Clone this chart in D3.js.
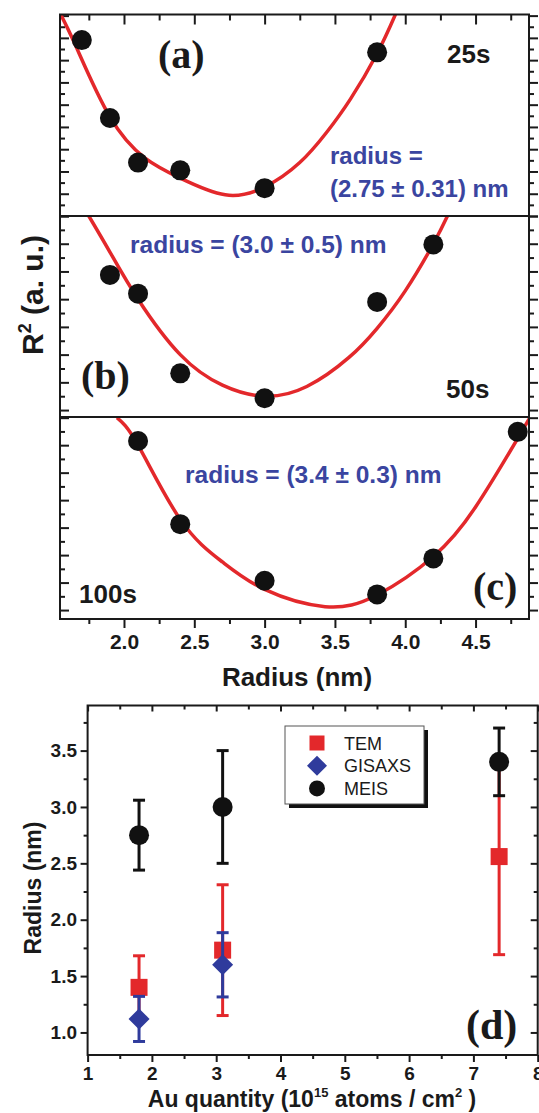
<!DOCTYPE html>
<meta charset="utf-8">
<style>
  body { margin: 0; background: #fff; }
  svg { display: block; }
</style>
<body>
<script src="https://d3js.org/d3.v7.min.js"></script>
<script>
  // panel (a) 25s
  const aRadius = [1.7, 1.9, 2.1, 2.4, 3.0, 3.8];
  const aR2 = [15.8, 8.8, 4.8, 4.1, 2.5, 14.7];
  const aFit = [[1.55, 18.1], [1.66, 15.2], [1.90, 8.9], [2.15, 5.2], [2.40, 3.4], [2.72, 1.9],
                [3.00, 2.6], [3.25, 4.8], [3.44, 7.5], [3.61, 10.5], [3.80, 14.6], [3.93, 18.1]];
  // panel (b) 50s
  const bRadius = [1.9, 2.1, 2.4, 3.0, 3.8, 4.2];
  const bR2 = [9.75, 8.4, 2.65, 0.85, 7.8, 11.95];
  const bFit = [[1.75, 14.0], [1.9, 11.4], [2.1, 8.0], [2.4, 4.0], [2.7, 1.8], [3.0, 1.0],
                [3.3, 1.7], [3.6, 3.8], [3.8, 5.9], [4.0, 8.6], [4.2, 12.0], [4.3, 14.0]];
  // panel (c) 100s
  const cRadius = [2.1, 2.4, 3.0, 3.8, 4.2, 4.8];
  const cR2 = [12.3, 6.25, 2.13, 1.14, 3.76, 12.97];
  const cFit = [[1.95, 14.0], [2.1, 12.0], [2.4, 6.6], [2.7, 3.5], [3.0, 1.5], [3.43, 0.25],
                [3.8, 1.1], [4.2, 3.9], [4.5, 7.5], [4.8, 12.5], [4.88, 13.9]];
  const radiusTicks = [2.0, 2.5, 3.0, 3.5, 4.0, 4.5];
  const radiusMinor = [1.75, 2.25, 2.75, 3.25, 3.75, 4.25, 4.75];

  // panel (d)
  const seriesNames = ["TEM", "GISAXS", "MEIS"];
  const temQuantity = [1.8, 3.1, 7.4];
  const temRadius = [1.40, 1.73, 2.56];
  const temErr = [0.28, 0.58, 0.87];
  const gisaxsQuantity = [1.8, 3.1];
  const gisaxsRadius = [1.12, 1.60];
  const gisaxsErr = [0.20, 0.285];
  const meisQuantity = [1.8, 3.1, 7.4];
  const meisRadius = [2.75, 3.0, 3.4];
  const meisErr = [0.31, 0.5, 0.3];
  const auTicks = [1, 2, 3, 4, 5, 6, 7, 8];
  const auMinor = [1.5, 2.5, 3.5, 4.5, 5.5, 6.5, 7.5];
  const nmTicks = [1.0, 1.5, 2.0, 2.5, 3.0, 3.5];
  const nmMinor = [1.25, 1.75, 2.25, 2.75, 3.25, 3.75];

  const sans = "'Liberation Sans', Arial, sans-serif";
  const serif = "'Liberation Serif', 'Times New Roman', serif";
  const ink = "#1a1a1a", red = "#e3282b", blue = "#2f3b9c", textBlue = "#3a45a0";

  const svg = d3.select("body").append("svg")
    .attr("width", 539).attr("height", 1113);

  // tick helper: draws ticks only (no domain line)
  function ticks(gen, tr, vals, size, fmt, pad, fs) {
    const g = svg.append("g").attr("transform", tr)
      .call(gen.tickValues(vals).tickSize(size).tickPadding(pad || 3)
        .tickFormat(fmt || ""));
    g.select(".domain").remove();
    g.selectAll("line").attr("stroke", ink).attr("stroke-width", 2);
    g.selectAll("text").attr("fill", ink).attr("font-family", sans)
      .attr("font-weight", "bold").attr("font-size", fs || 21);
    return g;
  }

  // ---------- top three panels ----------
  const L = 60, R = 529;
  const x = d3.scaleLinear().domain([1.545, 4.88]).range([L, R]);
  const panels = [
    {id: "a", top: 14.5, bot: 216, y: d3.scaleLinear().domain([0, 18.1]).range([216, 14.5]),
     r: aRadius, v: aR2, fit: aFit, n: 18},
    {id: "b", top: 216, bot: 417, y: d3.scaleLinear().domain([-0.5, 14]).range([417, 216]),
     r: bRadius, v: bR2, fit: bFit, n: 14},
    {id: "c", top: 417, bot: 619, y: d3.scaleLinear().domain([-0.65, 14.05]).range([619, 417]),
     r: cRadius, v: cR2, fit: cFit, n: 14}
  ];

  panels.forEach(p => {
    const all = d3.range(0, p.n + 1);
    const major = all.filter(d => d % 2 === 0), minor = all.filter(d => d % 2 === 1);
    ticks(d3.axisLeft(p.y), `translate(${L},0)`, major, -9);
    ticks(d3.axisLeft(p.y), `translate(${L},0)`, minor, -5);
    ticks(d3.axisRight(p.y), `translate(${R},0)`, major, 9);
    ticks(d3.axisRight(p.y), `translate(${R},0)`, minor, 5);

    svg.append("clipPath").attr("id", "clip-" + p.id)
      .append("rect").attr("x", L).attr("y", p.top).attr("width", R - L).attr("height", p.bot - p.top);

    const line = d3.line().x(d => x(d[0])).y(d => p.y(d[1])).curve(d3.curveNatural);
    svg.append("path").datum(p.fit)
      .attr("clip-path", `url(#clip-${p.id})`)
      .attr("d", line).attr("fill", "none").attr("stroke", red).attr("stroke-width", 3.5);

    svg.append("g").selectAll("circle").data(p.r).join("circle")
      .attr("cx", d => x(d)).attr("cy", (d, i) => p.y(p.v[i])).attr("r", 10)
      .attr("fill", "#111");

    svg.append("rect").attr("x", L).attr("y", p.top).attr("width", R - L).attr("height", p.bot - p.top)
      .attr("fill", "none").attr("stroke", ink).attr("stroke-width", 2);
  });

  ticks(d3.axisTop(x), `translate(0,14.5)`, radiusTicks, -10);
  ticks(d3.axisTop(x), `translate(0,14.5)`, radiusMinor, -6);
  ticks(d3.axisBottom(x), `translate(0,619)`, radiusTicks, 9, d3.format(".1f"), 6, 21);
  ticks(d3.axisBottom(x), `translate(0,619)`, radiusMinor, 5);

  function label(tx, ty, str, size, opts) {
    opts = opts || {};
    return svg.append("text").attr("x", tx).attr("y", ty).text(str)
      .attr("font-family", opts.family || sans).attr("font-weight", "bold")
      .attr("font-size", size).attr("fill", opts.fill || ink)
      .attr("text-anchor", opts.anchor || "start");
  }

  label(158, 68, "(a)", 40, {family: serif});
  label(447, 63, "25s", 26);
  label(330, 164, "radius =", 24, {fill: textBlue});
  label(330, 196.5, "(2.75 \u00b1 0.31) nm", 24, {fill: textBlue});
  label(130, 253, "radius = (3.0 \u00b1 0.5) nm", 24.5, {fill: textBlue});
  label(81, 389, "(b)", 40, {family: serif});
  label(446, 397.5, "50s", 26);
  label(185, 483, "radius = (3.4 \u00b1 0.3) nm", 24.5, {fill: textBlue});
  label(79, 603, "100s", 26);
  label(473, 600, "(c)", 40, {family: serif});
  label(297, 686, "Radius (nm)", 26, {anchor: "middle"});

  const r2 = svg.append("text").attr("transform", "translate(43,295) rotate(-90)")
    .attr("text-anchor", "middle").attr("font-family", sans).attr("font-weight", "bold")
    .attr("font-size", 30).attr("fill", ink);
  r2.append("tspan").text("R");
  r2.append("tspan").text("2").attr("font-size", 18).attr("dy", -12);
  r2.append("tspan").text(" (a. u.)").attr("dy", 12);

  // ---------- panel (d) ----------
  const dL = 87.6, dR = 537.7, dT = 705.5, dB = 1055;
  const xd = d3.scaleLinear().domain([1, 8]).range([dL, dR]);
  const yd = d3.scaleLinear().domain([0.8, 3.9]).range([dB, dT]);

  ticks(d3.axisBottom(xd), `translate(0,${dB})`, auTicks, 7, d3.format("d"), 4.5, 19);
  ticks(d3.axisBottom(xd), `translate(0,${dB})`, auMinor, 4);
  ticks(d3.axisTop(xd), `translate(0,${dT})`, auTicks, -6);
  ticks(d3.axisTop(xd), `translate(0,${dT})`, auMinor, -4);
  ticks(d3.axisLeft(yd), `translate(${dL},0)`, nmTicks, 7, d3.format(".1f"), 3.6, 19);
  ticks(d3.axisLeft(yd), `translate(${dL},0)`, nmMinor, 4);
  ticks(d3.axisRight(yd), `translate(${dR},0)`, nmTicks, -7);
  ticks(d3.axisRight(yd), `translate(${dR},0)`, nmMinor, -4);

  function errorBars(qs, vs, es, color) {
    const g = svg.append("g").attr("stroke", color).attr("stroke-width", 3);
    qs.forEach((q, i) => {
      const cx = xd(q), y1 = yd(vs[i] + es[i]), y2 = yd(vs[i] - es[i]);
      g.append("line").attr("x1", cx).attr("x2", cx).attr("y1", y1).attr("y2", y2);
      g.append("line").attr("x1", cx - 6).attr("x2", cx + 6).attr("y1", y1).attr("y2", y1);
      g.append("line").attr("x1", cx - 6).attr("x2", cx + 6).attr("y1", y2).attr("y2", y2);
    });
  }
  const diamond = (cx, cy, h) => `M${cx},${cy - h}L${cx + h},${cy}L${cx},${cy + h}L${cx - h},${cy}Z`;

  errorBars(temQuantity, temRadius, temErr, red);
  svg.append("g").selectAll("rect").data(temQuantity).join("rect")
    .attr("x", d => xd(d) - 8.5).attr("y", (d, i) => yd(temRadius[i]) - 8.5)
    .attr("width", 17).attr("height", 17).attr("fill", red);

  errorBars(gisaxsQuantity, gisaxsRadius, gisaxsErr, blue);
  svg.append("g").selectAll("path").data(gisaxsQuantity).join("path")
    .attr("d", (d, i) => diamond(xd(d), yd(gisaxsRadius[i]), 10.5)).attr("fill", blue);

  errorBars(meisQuantity, meisRadius, meisErr, "#111");
  svg.append("g").selectAll("circle").data(meisQuantity).join("circle")
    .attr("cx", d => xd(d)).attr("cy", (d, i) => yd(meisRadius[i])).attr("r", 10)
    .attr("fill", "#111");

  svg.append("rect").attr("x", dL).attr("y", dT).attr("width", dR - dL).attr("height", dB - dT)
    .attr("fill", "none").attr("stroke", ink).attr("stroke-width", 2);

  // legend
  const lg = svg.append("g").attr("transform", "translate(285,726)");
  lg.append("rect").attr("x", 4).attr("y", 4).attr("width", 139).attr("height", 78).attr("fill", "#111");
  lg.append("rect").attr("width", 139).attr("height", 78).attr("fill", "#fff")
    .attr("stroke", "#555").attr("stroke-width", 1);
  seriesNames.forEach((s, i) => {
    const cy = 17 + i * 22.7, cx = 32;
    if (i === 0) lg.append("rect").attr("x", cx - 7.5).attr("y", cy - 7.5).attr("width", 15).attr("height", 15).attr("fill", red);
    if (i === 1) lg.append("path").attr("d", diamond(cx, cy, 10)).attr("fill", blue);
    if (i === 2) lg.append("circle").attr("cx", cx).attr("cy", cy).attr("r", 8).attr("fill", "#111");
    lg.append("text").attr("x", 59).attr("y", cy + 6.5).text(s)
      .attr("font-family", sans).attr("font-size", 18).attr("fill", ink);
  });

  label(466, 1039, "(d)", 42, {family: serif});

  svg.append("text").attr("transform", "translate(41,888) rotate(-90)")
    .attr("text-anchor", "middle").attr("font-family", sans).attr("font-weight", "bold")
    .attr("font-size", 23).attr("fill", ink).text("Radius (nm)");

  const xl = svg.append("text").attr("x", 312).attr("y", 1107).attr("text-anchor", "middle")
    .attr("font-family", sans).attr("font-weight", "bold").attr("font-size", 23).attr("fill", ink);
  xl.append("tspan").text("Au quantity (10");
  xl.append("tspan").text("15").attr("font-size", 13).attr("dy", -10);
  xl.append("tspan").text(" atoms / cm").attr("dy", 10);
  xl.append("tspan").text("2").attr("font-size", 13).attr("dy", -10);
  xl.append("tspan").text(" )").attr("dy", 10);
</script>
</body>
